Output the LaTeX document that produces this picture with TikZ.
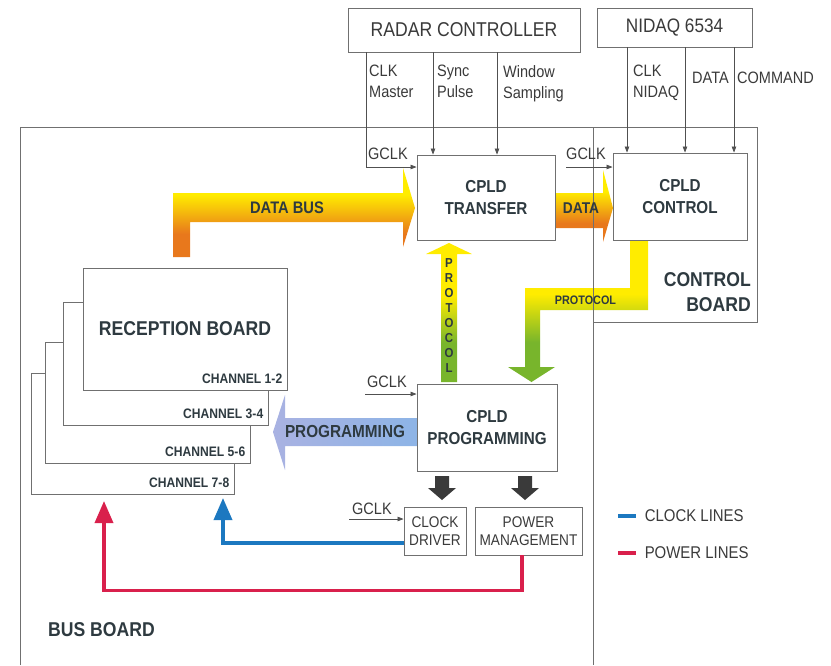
\documentclass[tikz,border=0pt]{standalone}
\usepackage{fontspec}
\setmainfont[FakeStretch=0.88]{Liberation Sans}
\usetikzlibrary{arrows.meta}
\newcommand\fsz[2]{\fontsize{#1}{#2}\selectfont}
\definecolor{txt}{HTML}{2E3A40}
\definecolor{reg}{HTML}{3A3A3A}
\definecolor{boxgray}{HTML}{707070}
\definecolor{siggray}{HTML}{505050}
\definecolor{clkblue}{HTML}{1C78C0}
\definecolor{pwrred}{HTML}{D9204C}
\definecolor{ylw}{HTML}{FFEC00}
\definecolor{org}{HTML}{E8781C}
\definecolor{grn}{HTML}{78B52C}
\definecolor{lav}{HTML}{A9B2E2}
\definecolor{lblue}{HTML}{8DB4E6}
\definecolor{drk}{HTML}{3A3A3A}
\pgfdeclareverticalshading{busshade}{100bp}{color(0bp)=(org); color(38bp)=(org); color(60bp)=(ylw); color(100bp)=(ylw)}
\pgfdeclareverticalshading{protshade}{100bp}{color(0bp)=(grn); color(39bp)=(grn); color(56bp)=(ylw); color(100bp)=(ylw)}
\begin{document}
\begin{tikzpicture}[x=1pt,y=-1pt,
  blockbox/.style={draw=boxgray,line width=0.9pt,fill=white,inner sep=0pt,text=reg},
  cpld/.style={blockbox,align=center,text=txt,font=\fsz{17.3}{22}\bfseries},
  board/.style={blockbox,text=txt,font=\fsz{20}{24}\bfseries},
  chan/.style={anchor=base east,inner sep=0pt,text=txt,font=\fsz{13.75}{16}\bfseries},
  board line/.style={draw=boxgray,line width=0.9pt},
  sig/.style={draw=siggray,line width=0.7pt,-{Triangle[length=6pt,width=4.5pt]}},
  siglbl/.style={anchor=north west,align=left,inner sep=0pt,text=reg,font=\fsz{16.5}{21}},
  arrlbl/.style={inner sep=0pt,text=txt,font=\fsz{16.7}{20}\bfseries},
  clk line/.style={draw=clkblue,line width=3.5pt},
  pwr line/.style={draw=pwrred,line width=3.5pt},
  legend/.style={anchor=west,inner sep=0pt,text=reg,font=\fsz{17}{20}}]
\useasboundingbox (0,0) rectangle (831,665);

% block arrows
\shade[shading=busshade] (173,257) -- (173,193) -- (403,193) -- (403,168) -- (415,208) -- (403,247) -- (403,222) -- (190,222) -- (190,257) -- cycle;
\shade[shading=busshade] (555,193) -- (603,193) -- (603,170) -- (613,208) -- (603,242) -- (603,228) -- (555,228) -- cycle;
\shade[shading=protshade] (441,382) -- (441,254) -- (426,254) -- (449,243) -- (472,254) -- (457,254) -- (457,382) -- cycle;
\shade[shading=protshade] (630,240) -- (648,240) -- (648,310) -- (540,310) -- (540,367) -- (555,367) -- (531.5,382) -- (508,367) -- (525,367) -- (525,288) -- (630,288) -- cycle;
\shade[left color=lav,right color=lblue] (417,418) -- (285,418) -- (285,395) -- (273,432) -- (285,470) -- (285,446) -- (417,446) -- cycle;
\foreach \cx in {442,525}
  \fill[drk] (\cx-7,476) -- (\cx+7,476) -- (\cx+7,488) -- (\cx+14,488) -- (\cx,500) -- (\cx-14,488) -- (\cx-7,488) -- cycle;

% boards
\draw[board line] (20,665) -- (20,127) -- (757,127) -- (757,322) -- (593,322);
\draw[board line] (593,127) -- (593,665);

\node[arrlbl] (databus) at (287,208) {DATA BUS};
\node[arrlbl,font=\fsz{15.6}{18}\bfseries] (data) at (581,208) {DATA};
\node[arrlbl,font=\fsz{17.4}{20}\bfseries] (programming) at (345,432) {PROGRAMMING};
\node[arrlbl,font=\fsz{12.3}{14}\bfseries] (protocol) at (585.5,300) {PROTOCOL};
\foreach \ch [count=\i] in {P,R,O,T,O,C,O,L}
  \node[arrlbl,font=\fsz{13}{14}\bfseries] (pv\i) at (449,{263+15*(\i-1)}) {\ch};

\node[anchor=east,align=right,inner sep=0pt,text=txt,font=\fsz{20}{25}\bfseries] (ctrlboard) at (751,292.5) {CONTROL\\BOARD};
\node[inner sep=0pt,text=txt,font=\fsz{20}{24}\bfseries] (busboard) at (101.5,629.5) {BUS BOARD};

% boxes
\node[blockbox,minimum width=232pt,minimum height=44pt,font=\fsz{20}{24}] (radar) at (464,30) {RADAR CONTROLLER};
\node[blockbox,minimum width=155pt,minimum height=39pt,font=\fsz{19.5}{24}] (nidaq) at (674.5,27.5) {NIDAQ 6534};
\node[cpld,minimum width=138pt,minimum height=85pt] (transfer) at (486,197.5) {CPLD\\TRANSFER};
\node[cpld,minimum width=134pt,minimum height=87pt] (control) at (680,196.5) {CPLD\\CONTROL};
\node[cpld,minimum width=140pt,minimum height=87pt] (prog) at (487,427.5) {CPLD\\PROGRAMMING};
\node[blockbox,minimum width=62pt,minimum height=48pt,align=center,font=\fsz{15.5}{18}] (clkdrv) at (435,531) {CLOCK\\DRIVER};
\node[blockbox,minimum width=107pt,minimum height=48pt,align=center,font=\fsz{15.5}{18}] (pwrmgmt) at (528.5,531) {POWER\\MANAGEMENT};

% reception board stack
\node[board,minimum width=203pt,minimum height=121pt] (ch78) at (132.5,433.5) {};
\node[chan] (lch78) at ([xshift=-5pt,yshift=7pt]ch78.south east) {CHANNEL 7-8};
\node[board,minimum width=205pt,minimum height=121pt] (ch56) at (147.5,402.5) {};
\node[chan] (lch56) at ([xshift=-5pt,yshift=7pt]ch56.south east) {CHANNEL 5-6};
\node[board,minimum width=205pt,minimum height=123pt] (ch34) at (165.5,363.5) {};
\node[chan] (lch34) at ([xshift=-5pt,yshift=7pt]ch34.south east) {CHANNEL 3-4};
\node[board,minimum width=204pt,minimum height=122pt] (ch12) at (185,329) {RECEPTION BOARD};
\node[chan] (lch12) at ([xshift=-5pt,yshift=7pt]ch12.south east) {CHANNEL 1-2};

% signals
\draw[sig] (radar.south -| 366,0) |- ([yshift=30.5pt]transfer.west);
\draw[sig] (radar.south -| 433,0) -- (transfer.north -| 433,0);
\draw[sig] (radar.south -| 497,0) -- (transfer.north -| 497,0);
\draw[sig] (nidaq.south -| 627,0) -- (control.north -| 627,0);
\draw[sig] (nidaq.south -| 685,0) -- (control.north -| 685,0);
\draw[sig] (nidaq.south -| 734,0) -- (control.north -| 734,0);
\coordinate (gclkc) at (566,167);
\draw[sig] (gclkc) -- (control.west |- gclkc);
\coordinate (gclkp) at (365,394);
\draw[sig] (gclkp) -- (prog.west |- gclkp);
\coordinate (gclkd) at (349,519);
\draw[sig] (gclkd) -- (clkdrv.west |- gclkd);

\node[siglbl] (lclkm) at (369,65) {CLK\\Master};
\node[siglbl] (lsync) at (437,65) {Sync\\Pulse};
\node[siglbl] (lwin) at (503,65) {Window\\Sampling};
\node[siglbl] (lclkn) at (633,65) {CLK\\NIDAQ};
\node[siglbl] (ldata) at (692,72) {DATA};
\node[siglbl] (lcmd) at (737,72) {COMMAND};
\node[siglbl] (lgclkt) at (368,148) {GCLK};
\node[siglbl] (lgclkc) at (566,148) {GCLK};
\node[siglbl] (lgclkp) at (367,376) {GCLK};
\node[siglbl] (lgclkd) at (352,503) {GCLK};

% clock and power lines
\coordinate (clktip) at (223,498);
\draw[clk line,-{Triangle[length=22pt,width=18pt]}] ([yshift=-12pt]clkdrv.west) -| (clktip);
\coordinate (pwrtip) at (104,501);
\draw[pwr line,-{Triangle[length=22pt,width=18pt]}] ([xshift=-6.5pt]pwrmgmt.south) -- ++(0,35) -| (pwrtip);

% legend
\coordinate (clkleg) at (618,516);
\draw[clk line] (clkleg) -- ++(18,0) node[legend,xshift=7pt] (lclkleg) {CLOCK LINES};
\coordinate (pwrleg) at (618,553);
\draw[pwr line] (pwrleg) -- ++(18,0) node[legend,xshift=7pt] (lpwrleg) {POWER LINES};
\end{tikzpicture}
\end{document}
